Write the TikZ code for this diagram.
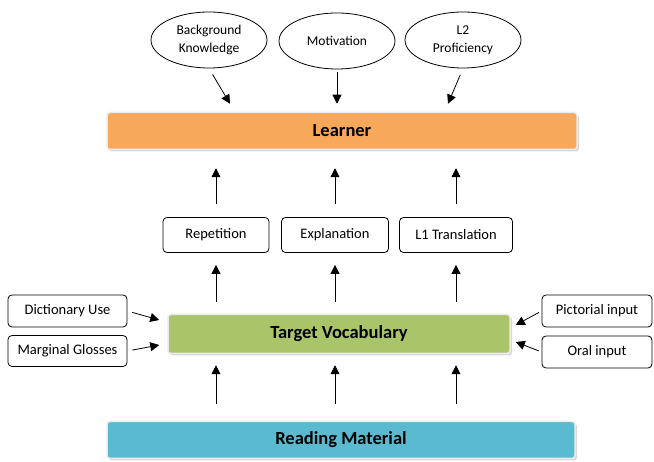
\documentclass[tikz,border=0pt]{standalone}
\usepackage{fontspec}
\setmainfont{Carlito}
\usetikzlibrary{positioning,arrows.meta,shapes.geometric,shadows}
\definecolor{LearnerOrange}{RGB}{248,168,90}
\definecolor{VocabGreen}{RGB}{170,196,106}
\definecolor{ReadingBlue}{RGB}{90,186,208}

\begin{document}
\begin{tikzpicture}[
x=1pt,y=-1pt,
bar/.style={
rectangle,rounded corners=3pt,draw=black!8,line width=1.5pt,
minimum height=37pt,font=\fontsize{18.5}{20}\selectfont\bfseries,
drop shadow={shadow xshift=2pt,shadow yshift=-2pt,opacity=0.3}
},
box/.style={
rectangle,rounded corners=4pt,draw,line width=0.8pt,
minimum height=33pt,font=\fontsize{14.5}{16}\selectfont
},
factor/.style={
ellipse,draw,line width=0.8pt,minimum width=116pt,minimum height=56pt,
align=center,inner sep=0pt,font=\fontsize{13.5}{18}\selectfont
},
arrow/.style={-{Triangle[length=9pt,width=9pt]},line width=0.8pt}
]
\useasboundingbox (0,0) rectangle (654,462);

% learner factors
\node[factor] (bk) at (209,40) {Background\\Knowledge};
\node[factor] (mot) at (337,41) {Motivation};
\node[factor] (l2) at (463,40) {L2\\Proficiency};

% main bars
\node[bar,fill=LearnerOrange,minimum width=470pt] (learner) at (342,131) {Learner};
\node[bar,fill=VocabGreen,minimum width=342pt,minimum height=39pt] (target) at (339,334) {Target Vocabulary};
\node[bar,fill=ReadingBlue,minimum width=468pt] (reading) at (341,440) {Reading Material};

% processes
\node[box,minimum width=106pt,minimum height=35pt] (rep) at (216,235) {Repetition};
\node[box,minimum width=107pt,minimum height=35pt] (expl) at (335,235) {Explanation};
\node[box,minimum width=113pt,minimum height=35pt] (l1) at (456,235) {L1 Translation};

% side inputs
\node[box,minimum width=119pt,minimum height=32pt] (dict) at (67.5,311) {Dictionary Use};
\node[box,minimum width=119pt,minimum height=31pt] (glos) at (67.5,351) {Marginal Glosses};
\node[box,minimum width=110pt,minimum height=32pt] (pict) at (597,311) {Pictorial input};
\node[box,minimum width=110pt,minimum height=32pt] (oral) at (597,352) {Oral input};

% arrows into learner
\draw[arrow,shorten <=7pt] (bk.south) -- ([xshift=-112pt,yshift=8pt]learner.north);
\draw[arrow,shorten <=3pt,shorten >=8pt] (mot.south) -- (mot.south |- learner.north);
\draw[arrow,shorten <=7pt] (l2.south) -- ([xshift=106pt,yshift=8pt]learner.north);

\foreach \p in {rep,expl,l1}{
\draw[arrow,shorten <=13pt,shorten >=18pt] (\p.north) -- (\p.north |- learner.south);
\draw[arrow,shorten <=12pt,shorten >=12pt] (\p.south |- target.north) -- (\p.south);
\draw[arrow,shorten <=17pt,shorten >=11pt] (\p.south |- reading.north) -- (\p.south |- target.south);
}

% side arrows
\draw[arrow,shorten <=5pt] (dict.east) -- ([xshift=-8pt,yshift=14pt]target.west);
\draw[arrow,shorten <=5pt] (glos.east) -- ([xshift=-8pt,yshift=-11pt]target.west);
\draw[arrow,shorten <=3pt] (pict.west) -- ([xshift=5pt,yshift=9pt]target.east);
\draw[arrow,shorten <=3pt] (oral.west) -- ([xshift=5pt,yshift=-8pt]target.east);

\end{tikzpicture}
\end{document}
